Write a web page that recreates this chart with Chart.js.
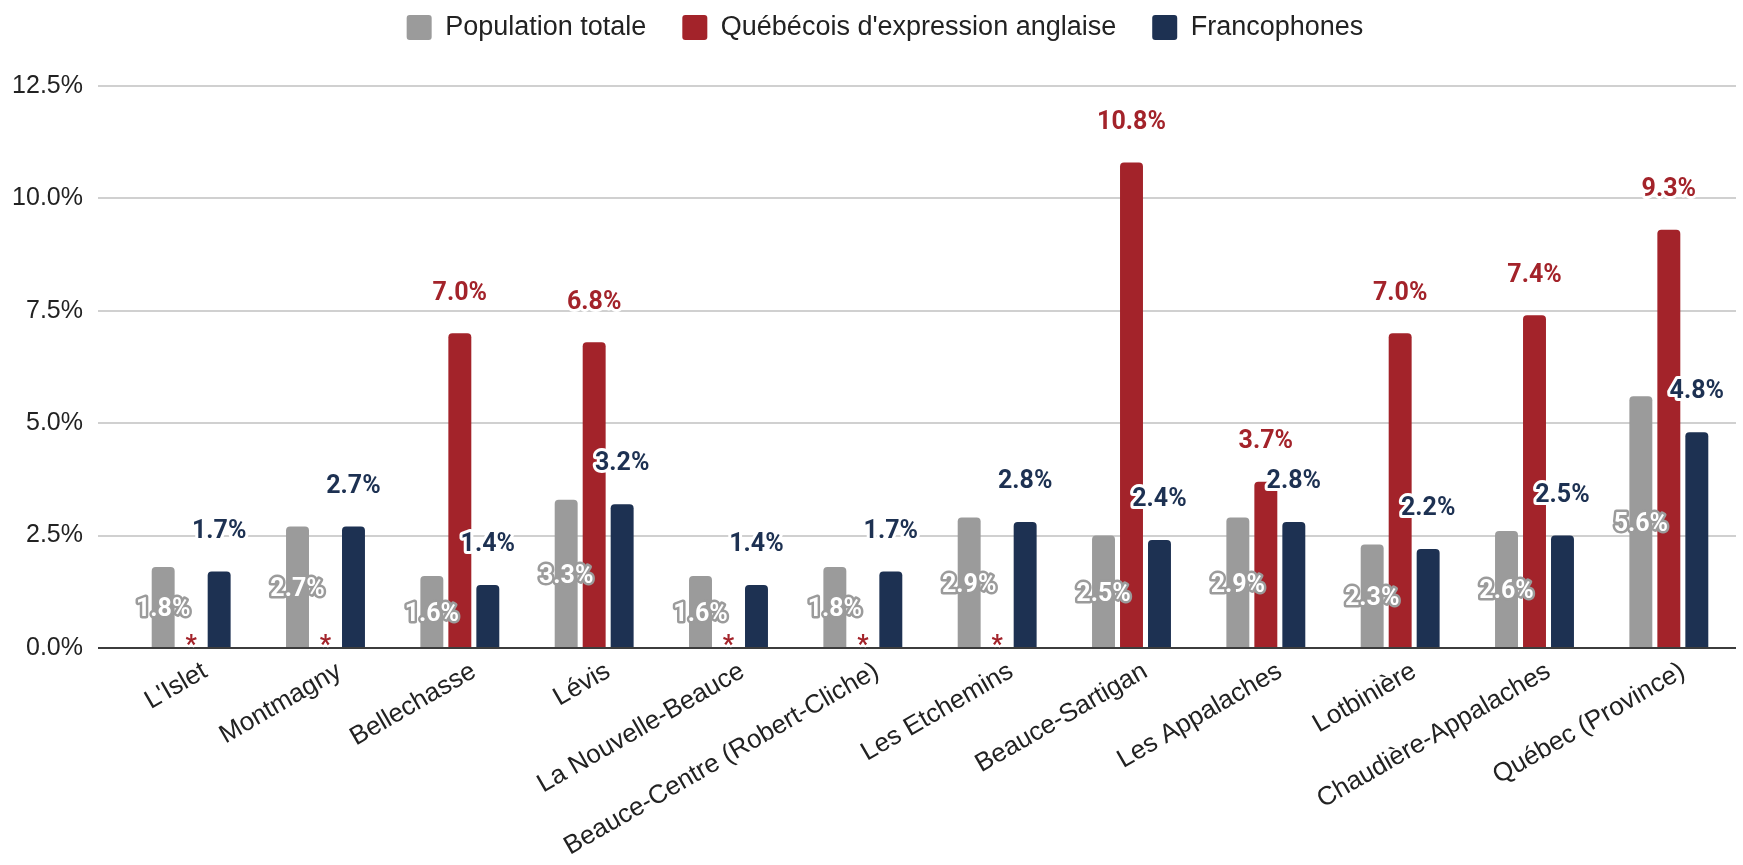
<!DOCTYPE html>
<html><head><meta charset="utf-8">
<script src="https://cdn.jsdelivr.net/npm/chart.js@4/dist/chart.umd.min.js"></script>
<style>html,body{margin:0;padding:0;background:#fff;}#wrap{width:1743px;height:865px;position:relative;}</style>
</head><body><div id="wrap"><canvas id="c"></canvas></div>
<script>
const categories = ["L'Islet","Montmagny","Bellechasse","Lévis","La Nouvelle-Beauce","Beauce-Centre (Robert-Cliche)","Les Etchemins","Beauce-Sartigan","Les Appalaches","Lotbinière","Chaudière-Appalaches","Québec (Province)"];
const populationTotale = [1.8,2.7,1.6,3.3,1.6,1.8,2.9,2.5,2.9,2.3,2.6,5.6];
const quebecoisAnglais = [null,null,7.0,6.8,null,null,null,10.8,3.7,7.0,7.4,9.3];
const francophones = [1.7,2.7,1.4,3.2,1.4,1.7,2.8,2.4,2.8,2.2,2.5,4.8];
const seriesNames = ["Population totale","Québécois d'expression anglaise","Francophones"];
const yTicks = [0,2.5,5,7.5,10,12.5];
const missingMark = "*";

const COLORS = ['#9b9b9b','#a3232a','#1d3152'];
const SANS = "'Liberation Sans', Arial, sans-serif";

const legendFix = {
  id: 'legendFix',
  beforeLayout(chart) {
    const lg = chart.legend;
    if (lg && !lg.__patched) {
      const f = lg.fit;
      lg.fit = function() { f.call(this); this.height = 108; };
      lg.__patched = true;
    }
  },
  afterLayout(chart) {
    const lg = chart.legend;
    if (lg) { lg.left += 17; lg.right += 17; }
  }
};

const valueLabels = {
  id: 'valueLabels',
  afterDatasetsDraw(chart) {
    const ctx = chart.ctx;
    const y0 = chart.scales.y.getPixelForValue(0);
    ctx.save();
    ctx.font = "bold 25px Roboto";
    ctx.textAlign = 'center';
    ctx.textBaseline = 'middle';
    ctx.lineJoin = 'round';
    const draw = (t, x, y, fill, stroke, lw) => {
      ctx.lineWidth = lw; ctx.strokeStyle = stroke; ctx.strokeText(t, x, y);
      ctx.fillStyle = fill; ctx.fillText(t, x, y);
    };
    [0,1,2].forEach(di => {
      const meta = chart.getDatasetMeta(di);
      const data = chart.data.datasets[di].data;
      meta.data.forEach((el, i) => {
        const v = data[i];
        if (di === 0) {
          draw(v.toFixed(1) + '%', el.x, (el.y + el.base) / 2 + 3, '#ffffff', '#9b9b9b', 5);
        } else if (v === null) {
          draw(missingMark, el.x, y0 - 1, COLORS[1], '#ffffff', 4);
        } else {
          draw(v.toFixed(1) + '%', el.x, el.y - 40, COLORS[di], '#ffffff', 6);
        }
      });
    });
    ctx.restore();
  }
};

new Chart(document.getElementById('c'), {
  type: 'bar',
  data: {
    labels: categories,
    datasets: [
      { label: seriesNames[0], data: populationTotale, backgroundColor: COLORS[0] },
      { label: seriesNames[1], data: quebecoisAnglais, backgroundColor: COLORS[1] },
      { label: seriesNames[2], data: francophones, backgroundColor: COLORS[2] }
    ]
  },
  options: {
    responsive: true,
    maintainAspectRatio: false,
    animation: false,
    devicePixelRatio: 1,
    layout: { padding: { top: -22, right: 7, left: 0, bottom: 0 } },
    datasets: { bar: { categoryPercentage: 0.625, barPercentage: 0.82, borderRadius: 4, borderWidth: 0 } },
    plugins: {
      tooltip: { enabled: false },
      legend: {
        position: 'top',
        labels: {
          boxWidth: 25, boxHeight: 25, padding: 36, useBorderRadius: true, borderRadius: 3,
          color: '#222', font: { family: SANS, size: 27 }
        }
      }
    },
    scales: {
      x: {
        grid: { display: false, drawTicks: false },
        border: { display: false },
        ticks: { color: '#222', font: { family: SANS, size: 26 }, minRotation: 30, maxRotation: 30, autoSkip: false, padding: 8, labelOffset: 14 },
        afterFit(s) { s.height = 217; }
      },
      y: {
        min: 0, max: 12.5,
        afterBuildTicks(s) { s.ticks = yTicks.map(v => ({ value: v })); },
        grid: {
          color: c => c.tick && c.tick.value === 0 ? '#3c3c3c' : '#d0d0d0',
          lineWidth: 2,
          drawTicks: true, tickLength: 26
        },
        border: { display: false },
        ticks: { color: '#222', font: { family: SANS, size: 25 }, padding: 15, callback: v => Number(v).toFixed(1) + '%' },
        afterFit(s) { s.width = 124; }
      }
    }
  },
  plugins: [legendFix, valueLabels]
});
</script></body></html>
